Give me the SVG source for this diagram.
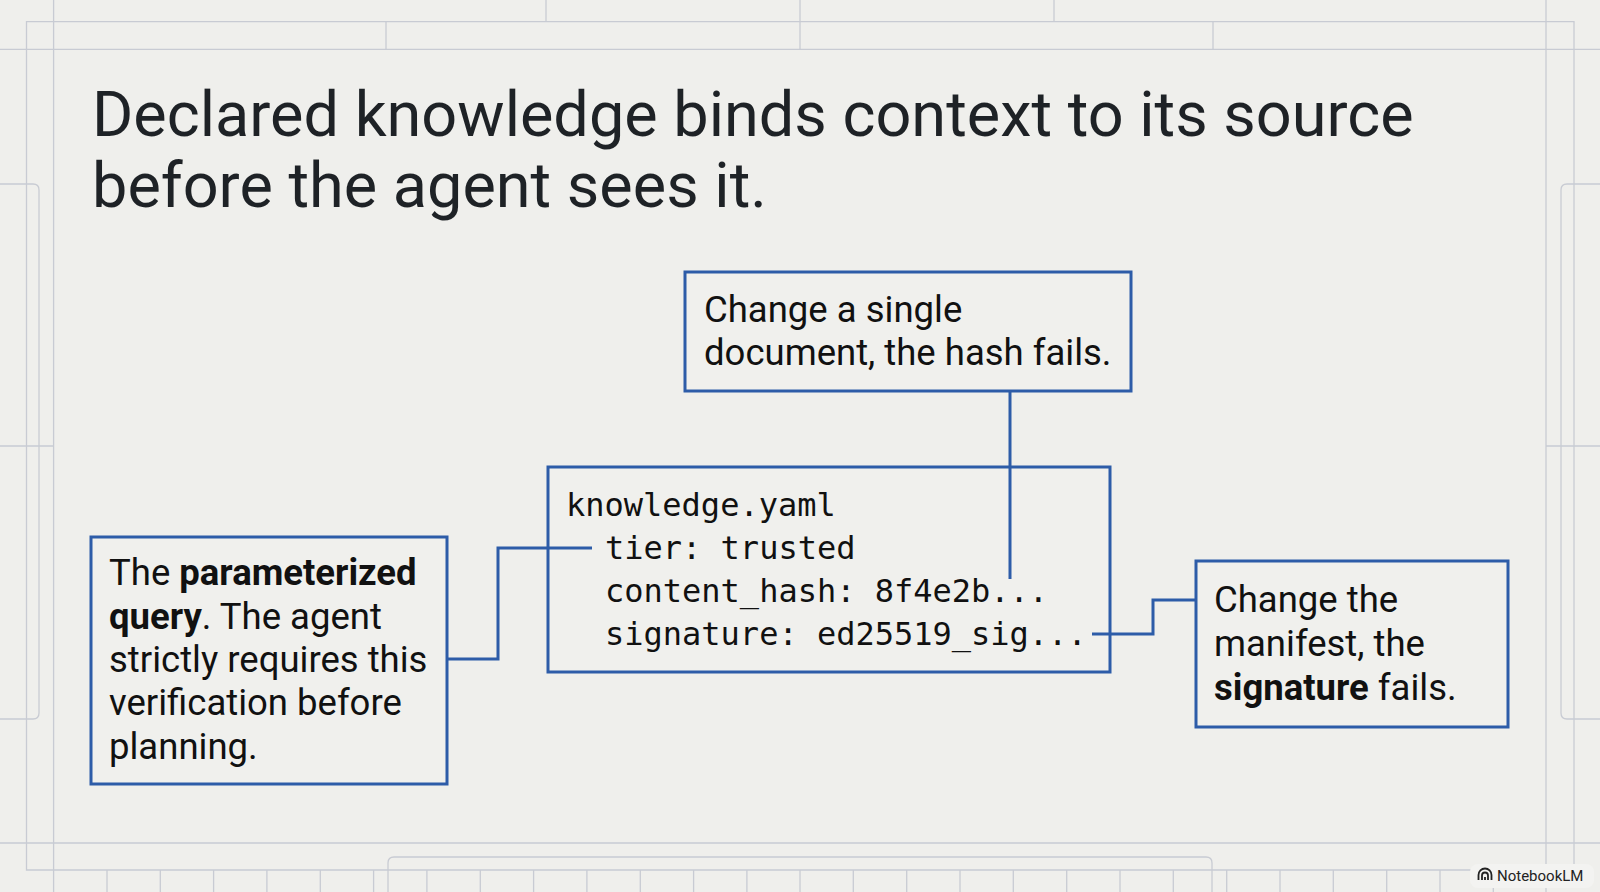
<svg xmlns="http://www.w3.org/2000/svg" width="1600" height="892" viewBox="0 0 1600 892">
<style>
.grid{fill:none;stroke:#c8cbd3;stroke-width:1.3}
.box{fill:#f0f0ed;stroke:#2d5ca8;stroke-width:3}
.conn{fill:none;stroke:#2d5ca8;stroke-width:3}
.title{font-family:Roboto,"Liberation Sans",sans-serif;font-size:63px;fill:#1e2226}
.body{font-family:Roboto,"Liberation Sans",sans-serif;font-size:36.5px;fill:#111}
.mono{font-family:"DejaVu Sans Mono","Liberation Mono",monospace;font-size:32px;fill:#111}
.b{font-weight:700}
</style>
<rect width="1600" height="892" fill="#efefec"/>
<g id="background-frame">
<path class="grid" d="M26.5 21.7 H1574 V870 H26.5 Z"/>
<path class="grid" d="M0 49.3 H1600 M0 843 H1600"/>
<path class="grid" d="M53.6 0 V892 M1546 0 V892"/>
<path class="grid" d="M546 0 V21.7 M1054 0 V21.7 M800 0 V49.3 M386 21.7 V49.3 M1213 21.7 V49.3"/>
<path class="grid" d="M0 184 H33 Q39 184 39 190 V713 Q39 719 33 719 H0"/>
<path class="grid" d="M1600 184 H1567 Q1561 184 1561 190 V713 Q1561 719 1567 719 H1600"/>
<path class="grid" d="M0 446 H53.6 M1546 446 H1600"/>
<path class="grid" d="M388 892 V863 Q388 857 394 857 H1206 Q1212 857 1212 863 V892"/>
<path class="grid" d="M107 870V892M160.3 870V892M213.6 870V892M266.9 870V892M320.3 870V892M373.6 870V892M426.9 870V892M480.3 870V892M533.6 870V892M586.9 870V892M640.3 870V892M693.6 870V892M746.9 870V892M800 870V892M853.3 870V892M906.7 870V892M960 870V892M1013.3 870V892M1066.7 870V892M1120 870V892M1173.3 870V892M1226.7 870V892M1280 870V892M1333.3 870V892M1386.7 870V892M1440 870V892M1493.3 870V892"/>
</g>
<g id="title">
<text class="title" x="92" y="136">Declared knowledge binds context to its source</text>
<text class="title" x="92" y="207">before the agent sees it.</text>
</g>
<g id="node-hash">
<rect class="box" x="685" y="272" width="446" height="119"/>
<text class="body" x="704" y="322">Change a single</text>
<text class="body" x="704" y="365">document, the hash fails.</text>
</g>
<g id="node-manifest">
<rect class="box" x="548" y="467" width="562" height="205"/>
<text class="mono" x="566" y="516">knowledge.yaml</text>
<text class="mono" x="605" y="559">tier: trusted</text>
<text class="mono" x="605" y="602">content_hash: 8f4e2b...</text>
<text class="mono" x="605" y="645">signature: ed25519_sig...</text>
</g>
<g id="node-query">
<rect class="box" x="91" y="537" width="356" height="247"/>
<text class="body" x="109" y="585">The <tspan class="b">parameterized</tspan></text>
<text class="body" x="109" y="629"><tspan class="b">query</tspan>. The agent</text>
<text class="body" x="109" y="672">strictly requires this</text>
<text class="body" x="109" y="715">verification before</text>
<text class="body" x="109" y="759">planning.</text>
</g>
<g id="node-signature">
<rect class="box" x="1196" y="561" width="312" height="166"/>
<text class="body" x="1214" y="612">Change the</text>
<text class="body" x="1214" y="656">manifest, the</text>
<text class="body" x="1214" y="700"><tspan class="b">signature</tspan> fails.</text>
</g>
<g id="connectors">
<path class="conn" d="M1010 391 V579"/>
<path class="conn" d="M447 659 H498 V548 H592"/>
<path class="conn" d="M1092 634 H1153 V600 H1196"/>
</g>
<g id="watermark">
<rect x="1470" y="864" width="124" height="24" rx="8" fill="#f3f3f1"/>
<path d="M1478.5 880 V875 A6.5 6.5 0 0 1 1491.5 875 V880 M1482 880 V875.5 A3 3 0 0 1 1488 875.5 V880 M1485 880 V877" fill="none" stroke="#222" stroke-width="1.8"/>
<text x="1497" y="881" font-family="Roboto,'Liberation Sans',sans-serif" font-size="15" fill="#222">NotebookLM</text>
</g>
</svg>
